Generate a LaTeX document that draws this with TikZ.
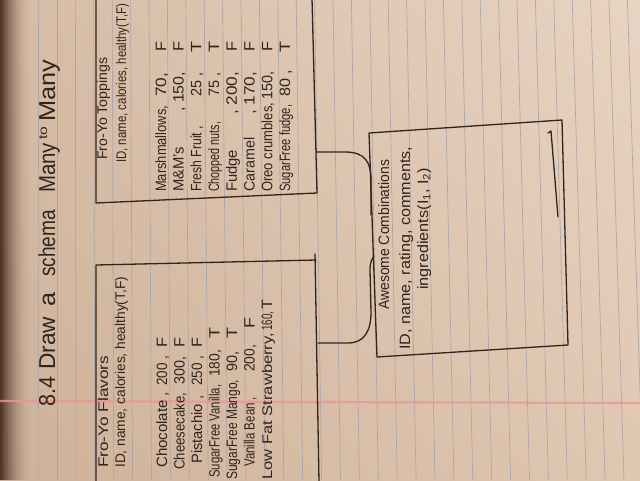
\documentclass[tikz,border=0pt]{standalone}
\usepackage{fontspec}
\setmainfont{Liberation Sans}
\usepackage{graphicx}
\usetikzlibrary{shadings}
\definecolor{ink}{RGB}{48,36,30}
\definecolor{rulec}{RGB}{172,165,168}
\definecolor{marginc}{RGB}{236,148,150}
\definecolor{pUL}{RGB}{214,188,166}
\definecolor{pUR}{RGB}{232,212,194}
\definecolor{pLL}{RGB}{206,177,153}
\definecolor{pLR}{RGB}{224,199,178}
\definecolor{stripc}{RGB}{70,42,30}
\tikzset{
  hw/.style={rotate=90, anchor=base west, inner sep=0pt, text=ink},
  pen/.style={draw=ink, line width=1.3pt, line cap=round, line join=round},
  rulel/.style={draw=rulec, line width=0.65pt},
  marginl/.style={draw=marginc, line width=2.2pt, opacity=0.8},
}
\newcommand{\hwt}[6]{\node[hw,font=\fontsize{#5}{#5}\selectfont] (#1) at (#2,#3) {\resizebox{#4pt}{\height}{#6}};}
\begin{document}
\begin{tikzpicture}[x=1pt,y=-1pt]
\useasboundingbox (0,0) rectangle (640,480);
\clip (0,0) rectangle (640,480);
% paper
\shade[upper left=pUL, upper right=pUR, lower left=pLL, lower right=pLR] (0,0) rectangle (640,480);
\foreach \i [evaluate=\i as \op using {0.92*(1-\i/16)^2}] in {0,...,15}
  \fill[stripc, opacity=\op] ({2*\i},0) rectangle ({2*\i+2.1},480);
% rules
\foreach \k in {-1,...,31}
  \draw[rulel] ({57+18.4*\k},0) -- ({57+18.9*\k},480);
\draw[marginl] (0,401) -- (640,403);
% title
\hwt{t1}{55}{407}{30}{23}{8.4}
\hwt{t2}{55}{370}{53}{23}{Draw}
\hwt{t3}{55}{307}{14}{23}{a}
\hwt{t4}{55}{277}{67}{23}{schema}
\hwt{t5}{55}{193}{50}{23}{Many}
\hwt{t6}{47}{140}{13}{12}{to}
\hwt{t7}{55}{122}{62}{23}{Many}
% toppings box
\coordinate (tpTL) at (96,-2);
\coordinate (tpBL) at (96,203);
\coordinate (tpBR) at (317,193);
\coordinate (tpTR) at (312,-2);
\coordinate (tpC) at (316,152);
\draw[pen] (tpTR) -- (tpBR) -- (tpBL) -- (tpTL);
% flavors box
\coordinate (flBL) at (96,482);
\coordinate (flTL) at (96,265);
\coordinate (flTR) at (316,260);
\coordinate (flRT) at (315,254);
\coordinate (flRB) at (319,482);
\coordinate (flC) at (318,343);
\draw[pen] (flBL) -- (flTL) -- (flTR);
\draw[pen] (flRT) -- (flRB);
% awesome box
\coordinate (awTL) at (369,133);
\coordinate (awTR) at (562,120);
\coordinate (awBR) at (568,345);
\coordinate (awBL) at (377,357);
\coordinate (awUp) at (371,215);
\coordinate (awLo) at (374,256);
\draw[pen] (awTL) -- (awTR) -- (awBR) -- (awBL) -- cycle;
\coordinate (inA) at (548,133);
\coordinate (inB) at (551,131);
\coordinate (inC) at (558,217);
\draw[pen] (inA) -- (inB) -- (inC);
% connectors
\draw[pen] (tpC) -- (345,152) .. controls (365,152) and (371,162) .. (371,180) -- (awUp);
\draw[pen] (flC) -- (348,343) .. controls (365,343) and (371,330) .. (371,312) -- (370,270) .. controls (370,262) and (372,259) .. (awLo);
% flavors text
\hwt{fh}{108}{468}{112}{14}{Fro-Yo Flavors}
\hwt{fa}{125}{468}{191}{14}{ID, name, calories, healthy(T,F)}
\hwt{f1a}{167}{468}{76}{15}{Chocolate ,}
\hwt{f1b}{167}{386}{30}{15}{200 ,}
\hwt{f1c}{167}{348}{10}{15}{F}
\hwt{f2a}{184.5}{470}{77}{15}{Cheesecake,}
\hwt{f2b}{184.5}{385}{28}{15}{300,}
\hwt{f2c}{184.5}{348}{10}{15}{F}
\hwt{f3a}{202}{464}{68}{15}{Pistachio ,}
\hwt{f3b}{202}{386}{30}{15}{250 ,}
\hwt{f3c}{202}{348}{10}{15}{F}
\hwt{f4a}{219.5}{478}{93}{15}{SugarFree Vanilla,}
\hwt{f4b}{219.5}{377}{27}{15}{180,}
\hwt{f4c}{219.5}{339}{11}{15}{T}
\hwt{f5a}{237}{480}{100}{15}{SugarFree Mango,}
\hwt{f5b}{237}{372}{20}{15}{90,}
\hwt{f5c}{237}{339}{11}{15}{T}
\hwt{f6a}{254.5}{467}{70}{15}{Vanilla Bean ,}
\hwt{f6b}{254.5}{372}{27}{15}{200,}
\hwt{f6c}{254.5}{329}{11}{15}{F}
\hwt{f7a}{272}{480}{147}{14}{Low Fat Strawberry,}
\hwt{f7b}{272}{331}{19}{15}{160,}
\hwt{f7c}{272}{310}{10}{15}{T}
% toppings text
\hwt{th}{107}{160}{102}{14}{Fro-Yo Toppings}
\hwt{ta}{126}{163}{159}{14}{ID, name, calories, healthy(T,F)}
\hwt{p1a}{166}{192}{86}{15}{Marshmallows,}
\hwt{p1b}{166}{97}{24}{15}{70,}
\hwt{p1c}{166}{52}{10}{15}{F}
\hwt{p2a}{183.7}{192}{45}{15}{M\&M's}
\hwt{p2b}{183.7}{112}{40}{15}{, 150,}
\hwt{p2c}{183.7}{52}{10}{15}{F}
\hwt{p3a}{201.4}{192}{66}{15}{Fresh Fruit ,}
\hwt{p3b}{201.4}{97}{24}{15}{25 ,}
\hwt{p3c}{201.4}{53}{11}{15}{T}
\hwt{p4a}{219.1}{192}{70}{15}{Chopped nuts,}
\hwt{p4b}{219.1}{97}{24}{15}{75 ,}
\hwt{p4c}{219.1}{53}{11}{15}{T}
\hwt{p5a}{236.9}{192}{42}{15}{Fudge}
\hwt{p5b}{236.9}{115}{43}{15}{, 200,}
\hwt{p5c}{236.9}{52}{10}{15}{F}
\hwt{p6a}{254.6}{192}{54}{15}{Caramel}
\hwt{p6b}{254.6}{115}{43}{15}{, 170,}
\hwt{p6c}{254.6}{52}{10}{15}{F}
\hwt{p7a}{272.3}{192}{89}{15}{Oreo crumbles,}
\hwt{p7b}{272.3}{100}{28}{15}{150,}
\hwt{p7c}{272.3}{52}{10}{15}{F}
\hwt{p8a}{290}{192}{87}{15}{SugarFree fudge,}
\hwt{p8b}{290}{97}{27}{15}{80 ,}
\hwt{p8c}{290}{53}{11}{15}{T}
% awesome text
\hwt{a1}{389}{310}{150}{15}{Awesome Combinations}
\hwt{a2}{410}{350}{203}{15}{ID, name, rating, comments,}
\hwt{a3}{428}{290}{122}{15}{ingredients(I\textsubscript{1}, I\textsubscript{2})}
\end{tikzpicture}
\end{document}
